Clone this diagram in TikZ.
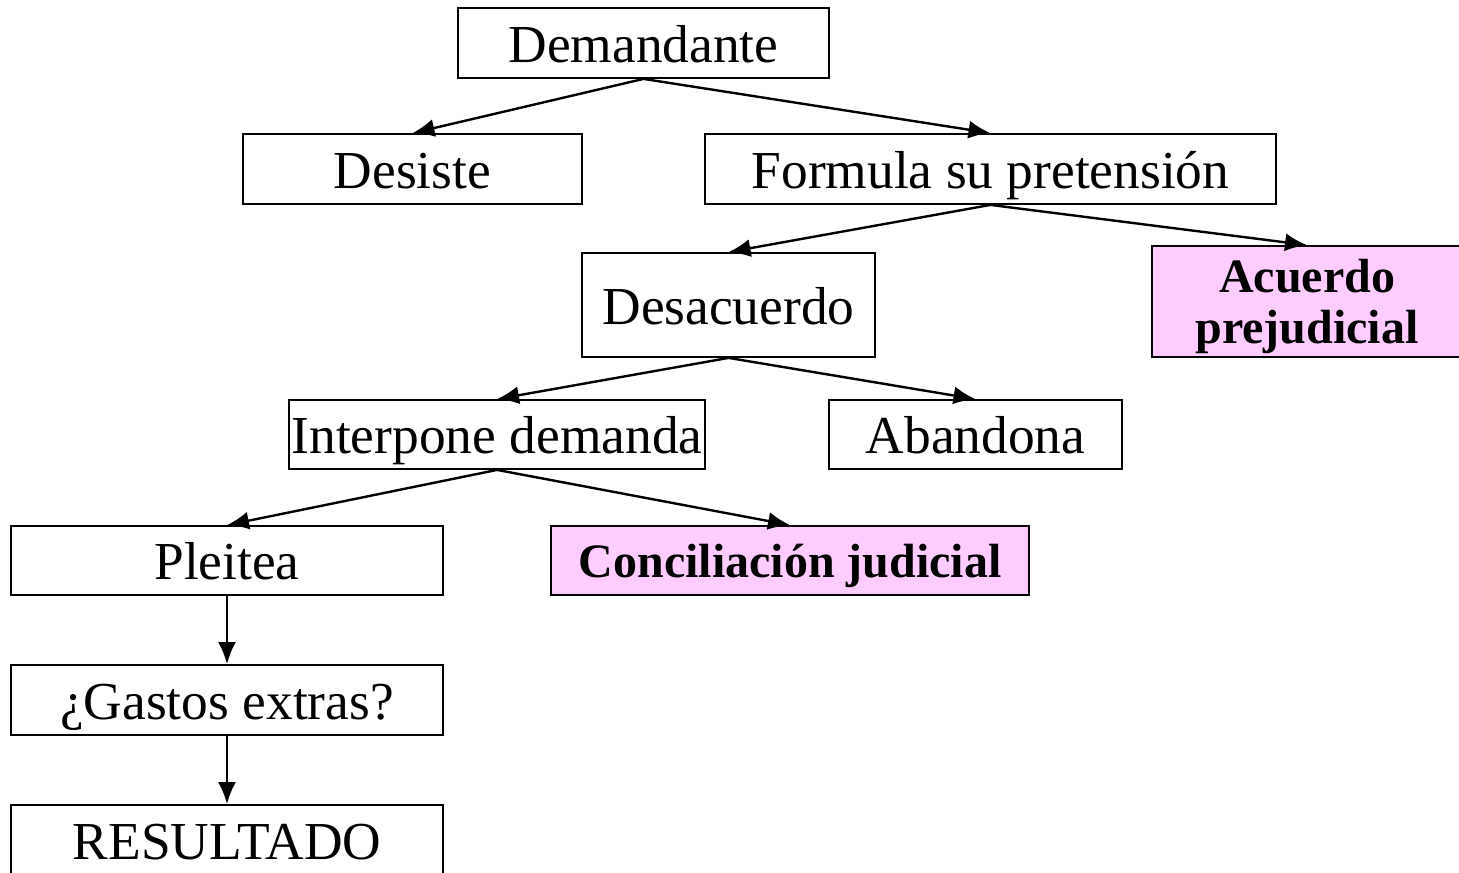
\documentclass[tikz,border=0pt]{standalone}
\usepackage{fontspec}
\setmainfont{Liberation Serif}
\usetikzlibrary{arrows.meta}
\definecolor{rosa}{RGB}{255,204,255}
\begin{document}
\begin{tikzpicture}[x=0.5pt, y=-0.5pt,
    frame/.style={draw, rectangle, line width=0.9pt, inner sep=0pt, minimum height=35pt},
    box/.style={frame, text height=19pt, text depth=0pt, font=\fontsize{26.7}{30}\selectfont},
    pinkbox/.style={frame, fill=rosa, font=\fontsize{24}{24.4}\selectfont\bfseries},
    link/.style={-{Latex[length=11pt,width=9pt]}, line width=1.2pt}]
        \useasboundingbox (0,0) rectangle (1459,872);
        \node[box, minimum width=185.5pt] (demandante) at (643.5,43) {Demandante};
        \node[box, minimum width=169.5pt] (desiste) at (412.5,169) {Desiste};
        \node[box, minimum width=285.5pt] (formula) at (990.5,169) {Formula su pretensión};
        \node[box, minimum width=146.5pt, minimum height=52pt] (desacuerdo) at (728.5,305) {Desacuerdo};
        \node[pinkbox, minimum width=155pt, minimum height=55.5pt, text height=30.9pt, text depth=11.76pt] (acuerdo) at (1307,301.5)
            {\begin{tabular}{@{}c@{}}Acuerdo\\[1.5pt]prejudicial\end{tabular}};
        \node[box, minimum width=208pt, minimum height=34.5pt] (interpone) at (497,434.5) {Interpone demanda};
        \node[box, minimum width=146.5pt, minimum height=34.5pt] (abandona) at (975.5,434.5) {Abandona};
        \node[box, minimum width=216pt, minimum height=34.5pt] (pleitea) at (227,560.5) {Pleitea};
        \node[pinkbox, minimum width=239pt, minimum height=34.5pt, text height=16.8pt, text depth=0pt] (conciliacion) at (790,560.5) {Conciliación judicial};
        \node[box, minimum width=216pt] (gastos) at (227,700) {¿Gastos extras?};
        \node[box, minimum width=216pt] (resultado) at (227,840) {RESULTADO};

        \draw[link] (demandante.south) -- (desiste.north);
        \draw[link] (demandante.south) -- (formula.north);
        \draw[link] (formula.south) -- (desacuerdo.north);
        \draw[link] (formula.south) -- (acuerdo.north);
        \draw[link] (desacuerdo.south) -- (interpone.north);
        \draw[link] (desacuerdo.south) -- (abandona.north);
        \draw[link] (interpone.south) -- (pleitea.north);
        \draw[link] (interpone.south) -- (conciliacion.north);
        \draw[link] (pleitea) -- (gastos);
        \draw[link] (gastos) -- (resultado);
    \end{tikzpicture}
\end{document}
